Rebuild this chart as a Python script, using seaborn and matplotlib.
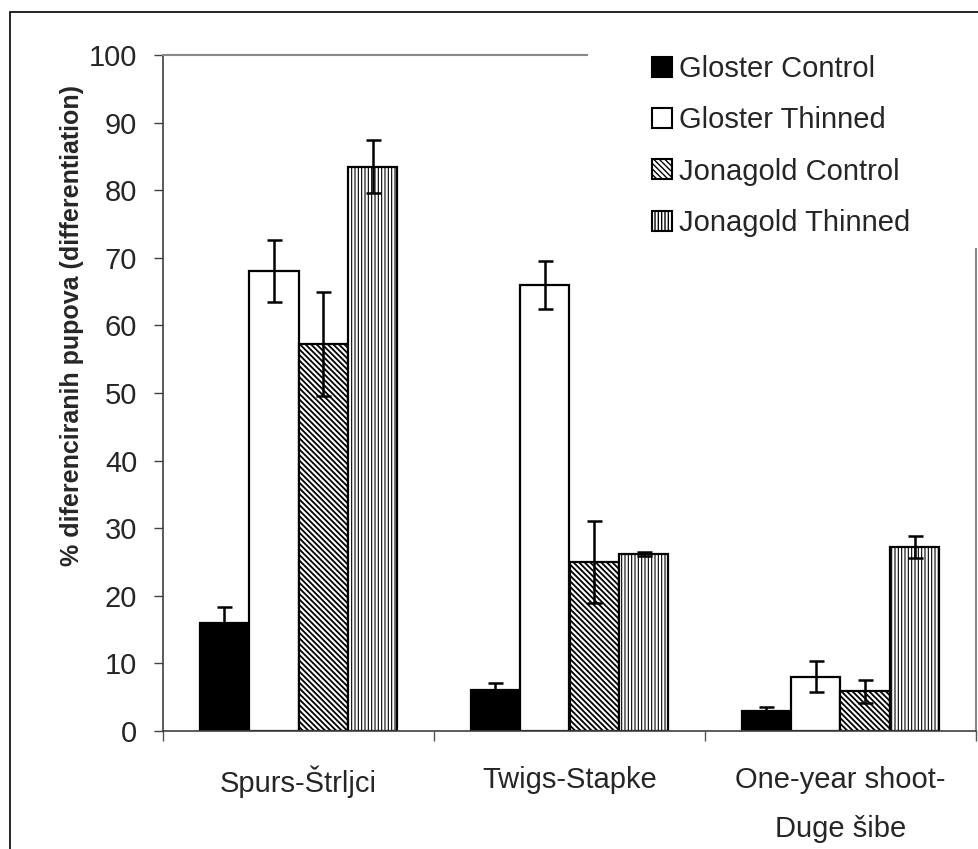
"""Flower bud differentiation in Gloster and Jonagold apples, by shoot type."""

import matplotlib

matplotlib.use("Agg")

import matplotlib.patches as mpatches
import matplotlib.pyplot as plt
import pandas as pd
import seaborn as sns

CATEGORIES = ["Spurs-Štrljci", "Twigs-Stapke", "One-year shoot-\nDuge šibe"]
SERIES = ["Gloster Control", "Gloster Thinned", "Jonagold Control", "Jonagold Thinned"]

GLOSTER_CONTROL = [16.0, 6.0, 3.0]
GLOSTER_THINNED = [68.0, 66.0, 8.0]
JONAGOLD_CONTROL = [57.3, 25.0, 5.9]
JONAGOLD_THINNED = [83.5, 26.2, 27.2]

GLOSTER_CONTROL_ERR = [2.3, 1.1, 0.5]
GLOSTER_THINNED_ERR = [4.6, 3.5, 2.3]
JONAGOLD_CONTROL_ERR = [7.7, 6.0, 1.7]
JONAGOLD_THINNED_ERR = [3.9, 0.3, 1.6]

Y_TICKS = [0, 10, 20, 30, 40, 50, 60, 70, 80, 90, 100]

FILLS = ["black", "white", "white", "white"]
HATCHES = ["", "", "\\" * 6, "|" * 5]
HATCH_WIDTHS = [1.0, 1.0, 1.3, 0.8]


def build_frame() -> pd.DataFrame:
    values = [GLOSTER_CONTROL, GLOSTER_THINNED, JONAGOLD_CONTROL, JONAGOLD_THINNED]
    rows = []
    for series, vals in zip(SERIES, values):
        for cat, v in zip(CATEGORIES, vals):
            rows.append({"category": cat, "series": series, "value": v})
    return pd.DataFrame(rows)


def style_hatch(patch, hatch, width) -> None:
    patch.set_hatch(hatch)
    if hasattr(patch, "set_hatch_linewidth"):
        patch.set_hatch_linewidth(width)


def main() -> None:
    sns.set_theme(style="ticks")
    plt.rcParams["font.family"] = ["Liberation Sans", "DejaVu Sans"]
    plt.rcParams["hatch.linewidth"] = 1.0
    plt.rcParams["hatch.color"] = "black"

    df = build_frame()
    errs = [GLOSTER_CONTROL_ERR, GLOSTER_THINNED_ERR, JONAGOLD_CONTROL_ERR, JONAGOLD_THINNED_ERR]

    fig = plt.figure(figsize=(9.79, 8.49), dpi=100)
    ax = fig.add_axes([163 / 979, 1 - 731 / 849, 813 / 979, 676 / 849])

    sns.barplot(
        data=df,
        x="category",
        y="value",
        hue="series",
        order=CATEGORIES,
        hue_order=SERIES,
        palette=dict(zip(SERIES, FILLS)),
        saturation=1,
        width=0.73,
        edgecolor="black",
        linewidth=1.6,
        errorbar=None,
        legend=False,
        ax=ax,
    )

    for container, hatch, hw, err in zip(ax.containers, HATCHES, HATCH_WIDTHS, errs):
        xs, ys = [], []
        for bar in container:
            style_hatch(bar, hatch, hw)
            xs.append(bar.get_x() + bar.get_width() / 2)
            ys.append(bar.get_height())
        ax.errorbar(xs, ys, yerr=err, fmt="none", ecolor="black",
                    elinewidth=1.8, capsize=5.4, capthick=1.8, zorder=5)

    ax.set_xlim(-0.5, len(CATEGORIES) - 0.5)
    ax.set_ylim(0, 100)
    ax.set_yticks(Y_TICKS)
    ax.set_xticks(range(len(CATEGORIES)))
    ax.set_xticklabels(CATEGORIES, fontsize=21, linespacing=1.95)
    ax.set_xticks([i - 0.5 for i in range(len(CATEGORIES) + 1)], minor=True)
    ax.tick_params(axis="x", which="major", length=0, pad=25)
    ax.tick_params(axis="x", which="minor", length=7, width=1, color="#555555")
    ax.tick_params(axis="y", length=6.5, width=1, color="#404040", pad=12, labelsize=21)
    ax.set_xlabel("")
    ax.set_ylabel("% diferenciranih pupova (differentiation)", fontsize=18, fontweight="bold")
    ax.yaxis.set_label_coords(-0.097, 0.6)

    for side in ("left", "bottom"):
        ax.spines[side].set_color("#404040")
        ax.spines[side].set_linewidth(1.2)
    for side in ("top", "right"):
        ax.spines[side].set_color("#888888")
        ax.spines[side].set_linewidth(1.5)

    # white area behind the legend hides part of the top and right border
    fig.add_artist(mpatches.Rectangle((588 / 979, 1 - 248 / 849), 1, 1,
                                      transform=fig.transFigure, facecolor="white",
                                      edgecolor="none", zorder=3))
    # outer chart frame, cut at the right and bottom edge of the picture
    fig.add_artist(mpatches.Rectangle((10 / 979, -0.1), 1, 1.1 - 12 / 849,
                                      transform=fig.transFigure, facecolor="none",
                                      edgecolor="black", linewidth=1.2, zorder=4))

    handles = []
    for f, h, hw in zip(FILLS, HATCHES, HATCH_WIDTHS):
        patch = mpatches.Patch(facecolor=f, edgecolor="black", linewidth=1.5)
        style_hatch(patch, h, hw)
        handles.append(patch)
    leg = fig.legend(
        handles,
        SERIES,
        loc="upper left",
        bbox_to_anchor=(652 / 979, 1 - 55 / 849),
        frameon=False,
        fontsize=21,
        handlelength=0.68,
        handleheight=0.68,
        handletextpad=0.25,
        labelspacing=0.8,
        borderpad=0,
        borderaxespad=0,
    )
    leg.set_zorder(5)

    fig.savefig("out.png", dpi=100)
    plt.close(fig)


if __name__ == "__main__":
    main()
